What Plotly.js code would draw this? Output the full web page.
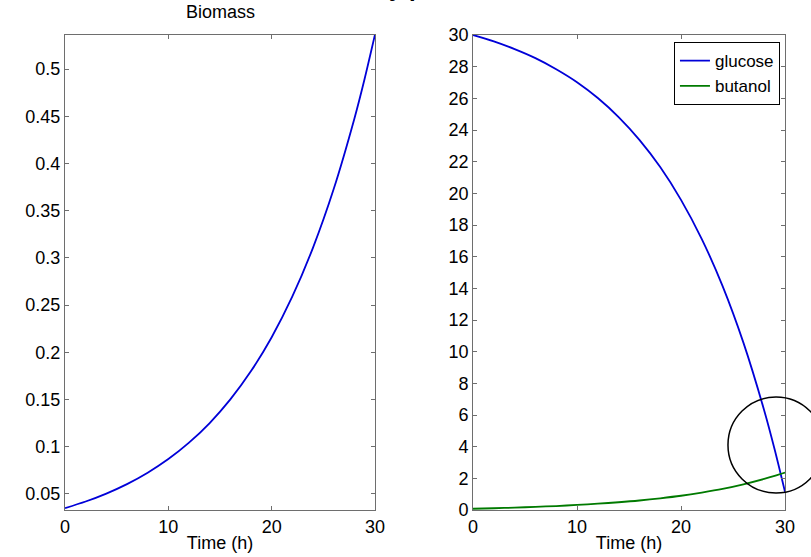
<!DOCTYPE html>
<html>
<head>
<meta charset="utf-8">
<script src="https://cdn.plot.ly/plotly-3.0.1.min.js"></script>
<style>html,body{margin:0;padding:0;background:#fff;}#chart{width:811px;height:557px;}</style>
</head>
<body>
<div id="chart"></div>
<script>
// ---- data ----
const timeH = [0, 2, 4, 6, 8, 10, 12, 14, 16, 18, 20, 22, 24, 26, 28, 29, 30];
const biomass = [0.035, 0.042, 0.0504, 0.0604, 0.0725, 0.0869, 0.1043, 0.1251, 0.1501, 0.1801, 0.216, 0.2591, 0.3109, 0.3729, 0.4474, 0.490, 0.5367];
const glucose = [30.0, 29.6, 29.11, 28.54, 27.84, 27.02, 26.02, 24.82, 23.38, 21.66, 19.59, 17.11, 14.14, 10.57, 6.29, 3.84, 1.15];
const butanol = [0.08, 0.11, 0.15, 0.20, 0.25, 0.32, 0.40, 0.49, 0.60, 0.74, 0.90, 1.10, 1.33, 1.62, 1.96, 2.15, 2.36];

const xTicks = [0, 10, 20, 30];
const biomassTickVals = [0.05, 0.1, 0.15, 0.2, 0.25, 0.3, 0.35, 0.4, 0.45, 0.5];
const biomassTickText = ['0.05', '0.1', '0.15', '0.2', '0.25', '0.3', '0.35', '0.4', '0.45', '0.5'];
const concTickVals = [0, 2, 4, 6, 8, 10, 12, 14, 16, 18, 20, 22, 24, 26, 28, 30];

const mainTitle = 'Batch study profiles';
const leftTitle = 'Biomass';
const xTitle = 'Time (h)';
const seriesNames = ['glucose', 'butanol'];

// ---- styling ----
const FONT = 'Arial, "Liberation Sans", Helvetica, sans-serif';
const frame = '#6e6e6e';
const axisCommon = {
  showline: true, linecolor: frame, linewidth: 1, mirror: 'ticks',
  ticks: 'inside', ticklen: 4, tickcolor: frame, tickwidth: 1,
  showgrid: false, zeroline: false,
  tickfont: {family: FONT, size: 18, color: '#000'}
};

const traces = [
  {x: timeH, y: biomass, type: 'scatter', mode: 'lines', xaxis: 'x', yaxis: 'y',
   line: {color: '#0000d8', width: 1.8, shape: 'spline', smoothing: 0.8}, showlegend: false, name: leftTitle},
  {x: timeH, y: glucose, type: 'scatter', mode: 'lines', xaxis: 'x2', yaxis: 'y2',
   line: {color: '#0000d8', width: 1.8, shape: 'spline', smoothing: 0.8}, name: seriesNames[0]},
  {x: timeH, y: butanol, type: 'scatter', mode: 'lines', xaxis: 'x2', yaxis: 'y2',
   line: {color: '#007a00', width: 1.8, shape: 'spline', smoothing: 0.8}, name: seriesNames[1]}
];

const layout = {
  width: 811, height: 557,
  paper_bgcolor: '#fff', plot_bgcolor: '#fff',
  margin: {l: 65, r: 26, t: 35, b: 47},
  font: {family: FONT, size: 18, color: '#000'},
  xaxis: Object.assign({}, axisCommon, {domain: [0, 0.4306], range: [0, 30], tickvals: xTicks,
          title: {text: xTitle, font: {family: FONT, size: 18}, standoff: 0}}),
  yaxis: Object.assign({}, axisCommon, {range: [0.033, 0.536], tickvals: biomassTickVals, ticktext: biomassTickText}),
  xaxis2: Object.assign({}, axisCommon, {domain: [0.5667, 1], range: [0, 30], tickvals: xTicks, anchor: 'y2',
          title: {text: xTitle, font: {family: FONT, size: 18}, standoff: 0}}),
  yaxis2: Object.assign({}, axisCommon, {range: [0, 30], tickvals: concTickVals, anchor: 'x2'}),
  showlegend: true,
  legend: {x: 0.993, xanchor: 'right', y: 0.985, yanchor: 'top', bgcolor: '#fff',
           bordercolor: '#000', borderwidth: 1, font: {family: FONT, size: 17},
           tracegroupgap: 0, itemwidth: 30},
  annotations: [
    {text: leftTitle, xref: 'paper', yref: 'paper', x: 0.2153, y: (510 - 12) / 475, xanchor: 'center', yanchor: 'middle',
     showarrow: false, font: {family: FONT, size: 18, color: '#000'}},
    {text: '<b>' + mainTitle + '</b>', xref: 'paper', yref: 'paper', x: (380 - 65) / 720, y: (510 + 13) / 475,
     xanchor: 'center', yanchor: 'middle', showarrow: false, font: {family: FONT, size: 24, color: '#000'}}
  ],
  shapes: [
    {type: 'circle', xref: 'paper', yref: 'paper', x0: 0.9208, x1: 1.0542, y0: 0.0358, y1: 0.2379,
     line: {color: '#000', width: 1.5}}
  ]
};

Plotly.newPlot('chart', traces, layout, {displayModeBar: false, staticPlot: true});
</script>
</body>
</html>
